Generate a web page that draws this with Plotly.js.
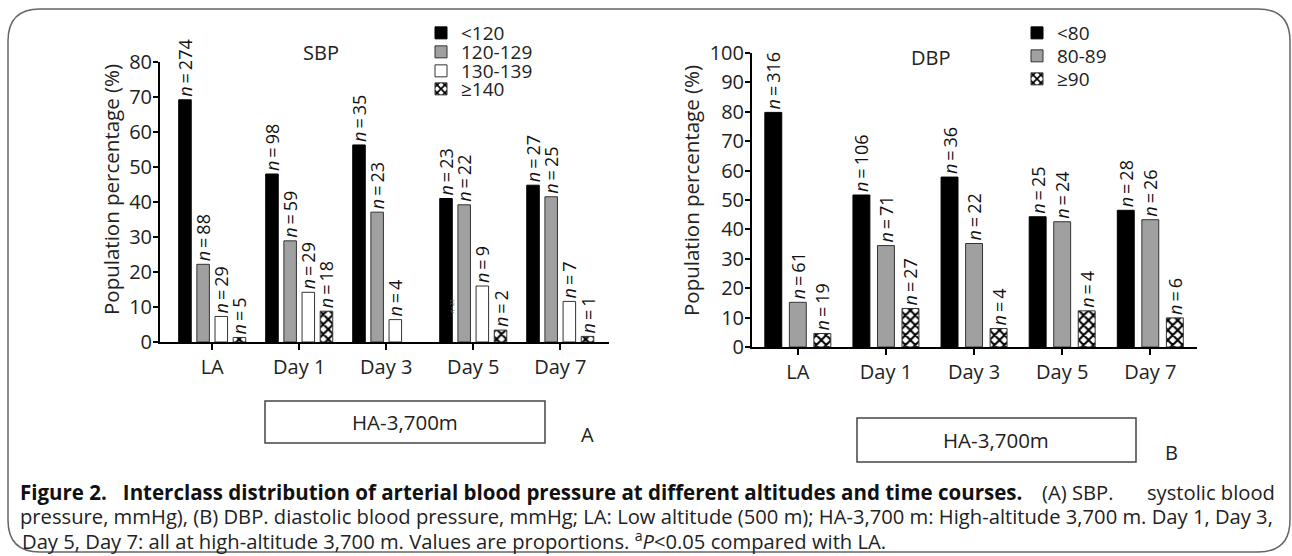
<!DOCTYPE html>
<html><head><meta charset="utf-8">
<script src="https://cdn.plot.ly/plotly-3.0.1.min.js"></script>
<style>html,body{margin:0;padding:0;background:#fff}#chart{width:1292px;height:556px}</style>
</head><body><div id="chart"></div>
<script>
// ---------- data ----------
const categories = ['LA', 'Day 1', 'Day 3', 'Day 5', 'Day 7'];

const sbpGroups = ['&lt;120', '120-129', '130-139', '≥140'];
const sbpLt120    = [69.2, 48.0, 56.3, 41.0, 44.8];
const sbp120to129 = [22.2, 28.9, 37.1, 39.2, 41.5];
const sbp130to139 = [7.3, 14.2, 6.4, 16.0, 11.6];
const sbpGe140    = [1.3, 8.8, null, 3.4, 1.6];
const sbpNLt120    = [274, 98, 35, 23, 27];
const sbpN120to129 = [88, 59, 23, 22, 25];
const sbpN130to139 = [29, 29, 4, 9, 7];
const sbpNGe140    = [5, 18, null, 2, 1];

const dbpGroups = ['&lt;80', '80-89', '≥90'];
const dbpLt80    = [79.8, 51.7, 57.8, 44.3, 46.5];
const dbp80to89  = [15.2, 34.5, 35.2, 42.6, 43.3];
const dbpGe90    = [4.6, 13.1, 6.3, 12.3, 9.9];
const dbpNLt80   = [316, 106, 36, 25, 28];
const dbpN80to89 = [61, 71, 22, 24, 26];
const dbpNGe90   = [19, 27, 4, 4, 6];

const yTitle = 'Population percentage (%)';
const panelTitles = ['SBP', 'DBP'];
const boxLabel = 'HA-3,700m';
const panelLetters = ['A', 'B'];

// ---------- helpers ----------
const W = 1292, H = 556;
const FONT = 'Open Sans, Noto Sans, sans-serif';
const px = x => x / W;
const py = y => 1 - y / H;

const styles = {
  black: {color: '#000000', line: {color: '#000000', width: 1}},
  gray:  {color: '#a0a0a0', line: {color: '#333333', width: 1}},
  white: {color: '#ffffff', line: {color: '#333333', width: 1}},
  check: {color: '#ffffff', line: {color: '#333333', width: 1},
          pattern: {shape: 'x', size: 7, solidity: 0.5, fgcolor: '#000000', bgcolor: '#ffffff', fillmode: 'replace'}}
};

function barTrace(name, y, n, style, xa, ya, legendId) {
  const keep = y.map((v, i) => v !== null ? i : -1).filter(i => i >= 0);
  return {
    type: 'bar', name: name,
    x: keep.map(i => categories[i]), y: keep.map(i => y[i]),
    xaxis: xa, yaxis: ya, legend: legendId,
    marker: style,
    text: keep.map(i => '<i>n</i>\u2009=\u2009' + n[i]),
    textposition: 'outside', textangle: -90,
    constraintext: 'none', cliponaxis: false,
    outsidetextfont: {family: FONT, size: 18, color: '#111'},
    hoverinfo: 'skip'
  };
}

const traces = [
  barTrace(sbpGroups[0], sbpLt120, sbpNLt120, styles.black, 'x', 'y', 'legend'),
  barTrace(sbpGroups[1], sbp120to129, sbpN120to129, styles.gray, 'x', 'y', 'legend2'),
  barTrace(sbpGroups[2], sbp130to139, sbpN130to139, styles.white, 'x', 'y', 'legend3'),
  barTrace(sbpGroups[3], sbpGe140, sbpNGe140, styles.check, 'x', 'y', 'legend4'),
  barTrace(dbpGroups[0], dbpLt80, dbpNLt80, styles.black, 'x2', 'y2', 'legend5'),
  barTrace(dbpGroups[1], dbp80to89, dbpN80to89, styles.gray, 'x2', 'y2', 'legend6'),
  barTrace(dbpGroups[2], dbpGe90, dbpNGe90, styles.check, 'x2', 'y2', 'legend7')
];

function xAxis(domain, range, anchor) {
  return {
    type: 'category', domain: domain, range: range, anchor: anchor,
    categoryorder: 'array', categoryarray: categories,
    showline: true, linecolor: '#000', linewidth: 2,
    ticks: 'outside', ticklen: 6, tickwidth: 2, tickcolor: '#000',
    tickfont: {family: FONT, size: 20, color: '#222'},
    showgrid: false, zeroline: false, fixedrange: true
  };
}
function yAxis(domain, range, anchor) {
  return {
    domain: domain, range: range, anchor: anchor, dtick: 10,
    showline: true, linecolor: '#000', linewidth: 2,
    ticks: 'outside', ticklen: 5, tickwidth: 2, tickcolor: '#000',
    ticklabelstandoff: -3,
    tickfont: {family: FONT, size: 20, color: '#222'},
    showgrid: false, zeroline: false, fixedrange: true
  };
}

function legendAt(x, y) {
  return {x: px(x), y: py(y), xanchor: 'left', yanchor: 'middle',
          bgcolor: 'rgba(0,0,0,0)', borderwidth: 0,
          font: {family: FONT, size: 19, color: '#222'}, itemclick: false, itemdoubleclick: false};
}

// rounded frame
const fx0 = 8, fy0 = 9, fx1 = 1290, fy1 = 552, r = 32;
const P = (x, y) => px(x).toFixed(5) + ',' + py(y).toFixed(5);
const framePath = 'M' + P(fx0, fy0 + r) + ' Q' + P(fx0, fy0) + ' ' + P(fx0 + r, fy0) +
  ' L' + P(fx1 - r, fy0) + ' Q' + P(fx1, fy0) + ' ' + P(fx1, fy0 + r) +
  ' L' + P(fx1, fy1 - r) + ' Q' + P(fx1, fy1) + ' ' + P(fx1 - r, fy1) +
  ' L' + P(fx0 + r, fy1) + ' Q' + P(fx0, fy1) + ' ' + P(fx0, fy1 - r) + ' Z';

const txt = {family: FONT, size: 20, color: '#222'};
const titleFont = {family: FONT, size: 20.5, color: '#222'};
const capFont = {family: FONT, size: 20.2, color: '#222'};
const capBold = {family: 'Liberation Sans Narrow, ' + FONT, size: 20.5, color: '#111', weight: 'bold'};

function ann(text, x, y, font, extra) {
  return Object.assign({text: text, x: px(x), y: py(y), xref: 'paper', yref: 'paper',
    xanchor: 'center', yanchor: 'middle', showarrow: false, font: font}, extra || {});
}

const annotations = [
  ann(yTitle, 111, 190, titleFont, {textangle: -90}),
  ann(yTitle, 691, 191, titleFont, {textangle: -90}),
  ann(panelTitles[0], 321, 53, txt),
  ann(panelTitles[1], 930, 57, txt),
  ann(boxLabel, 405, 422, {family: FONT, size: 20.5, color: '#222'}),
  ann(boxLabel, 996, 440, {family: FONT, size: 20.5, color: '#222'}),
  ann(panelLetters[0], 587, 434, txt),
  ann(panelLetters[1], 1171, 452, txt),
  ann('<i>n</i>=23', 452, 306, {family: FONT, size: 6, color: '#666'}, {textangle: -90}),
  ann('Figure 2.   Interclass distribution of arterial blood pressure at different altitudes and time courses.',
      18, 492, capBold, {xanchor: 'left'}),
  ann('(A) SBP.', 1040, 492, capFont, {xanchor: 'left'}),
  ann('systolic blood', 1277, 492, capFont, {xanchor: 'right'}),
  ann('pressure, mmHg), (B) DBP. diastolic blood pressure, mmHg; LA: Low altitude (500 m); HA-3,700 m: High-altitude 3,700 m. Day 1, Day 3,',
      18, 516, capFont, {xanchor: 'left'}),
  ann('Day 5, Day 7: all at high-altitude 3,700 m. Values are proportions. <sup>a</sup><i>P</i>&lt;0.05 compared with LA.',
      20, 540, capFont, {xanchor: 'left'})
];

const shapes = [
  {type: 'path', xref: 'paper', yref: 'paper', path: framePath, line: {color: '#666', width: 1.5}},
  {type: 'rect', xref: 'paper', yref: 'paper', x0: px(265), y0: py(401), x1: px(545), y1: py(443), line: {color: '#444', width: 1.5}},
  {type: 'rect', xref: 'paper', yref: 'paper', x0: px(857), y0: py(418), x1: px(1136), y1: py(462), line: {color: '#444', width: 1.5}}
];

const layout = {
  width: W, height: H,
  margin: {l: 0, r: 0, t: 0, b: 0},
  paper_bgcolor: '#fff', plot_bgcolor: 'rgba(0,0,0,0)',
  barmode: 'group', bargap: 0.165, bargroupgap: 0.31,
  showlegend: true,
  xaxis: xAxis([px(160), px(609)], [-0.6, 4.56], 'y'),
  yaxis: yAxis([py(342), py(62)], [0, 80], 'x'),
  xaxis2: xAxis([px(752), px(1197)], [-0.52, 4.53], 'y2'),
  yaxis2: yAxis([py(347), py(53)], [0, 100], 'x2'),
  legend: legendAt(421, 33),
  legend2: legendAt(421, 52),
  legend3: legendAt(421, 71),
  legend4: legendAt(421, 89),
  legend5: legendAt(1017, 33),
  legend6: legendAt(1017, 56),
  legend7: legendAt(1017, 79),
  annotations: annotations,
  shapes: shapes
};

Plotly.newPlot('chart', traces, layout, {displayModeBar: false, staticPlot: true});
</script>
</body></html>
